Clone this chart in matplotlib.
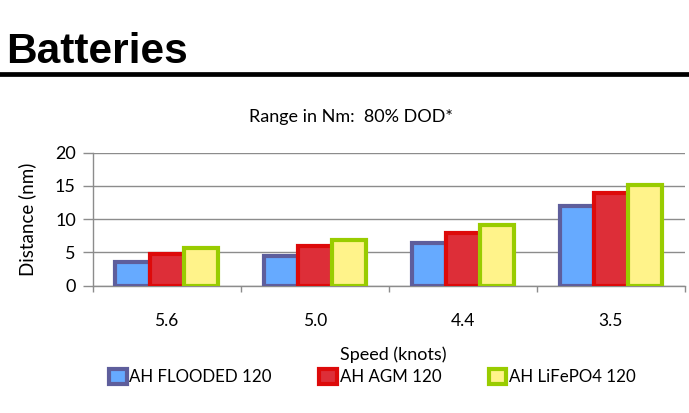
import matplotlib
matplotlib.use("Agg")
import matplotlib.pyplot as plt
import numpy as np

categories = ["5.6", "5.0", "4.4", "3.5"]
series_names = ["AH FLOODED 120", "AH AGM 120", "AH LiFePO4 120"]
flooded = [3.5, 4.5, 6.4, 12.0]
agm = [4.8, 5.9, 8.0, 13.9]
lifepo4 = [5.6, 6.9, 9.2, 15.1]
yticks = [0, 5, 10, 15, 20]

fills = ["#66AAFF", "#DD2E38", "#FFF38A"]
edges = ["#5E5E9C", "#DD0A0A", "#99CC00"]

body_font = ["Lato", "DejaVu Sans"]
H = 413.0
W = 689.0

fig = plt.figure(figsize=(6.89, 4.13), dpi=100)

# Slide title and rule
fig.text(6 / W, 1 - 62.7 / H, "Batteries", fontsize=30.5, fontweight="bold",
         family=["Liberation Sans", "DejaVu Sans"], ha="left", va="baseline")
fig.add_artist(plt.Line2D([0, 1], [1 - 74 / H, 1 - 74 / H], color="black", lw=3.4,
                          transform=fig.transFigure))

ax = fig.add_axes([92.5 / W, (H - 285.7) / H, (685 - 92.5) / W, (285.7 - 152.7) / H])

x = np.arange(len(categories))
w = 0.23
data = [flooded, agm, lifepo4]
handles = []
for i, vals in enumerate(data):
    b = ax.bar(x + (i - 1) * w, vals, width=w, color=fills[i], edgecolor=edges[i],
               linewidth=3.0, zorder=3, label=series_names[i])
    handles.append(b)

ax.set_xlim(-0.5, len(categories) - 0.5)
ax.set_ylim(0, 20)
ax.set_yticks(yticks)
ax.set_yticklabels([str(v) for v in yticks], fontsize=13, family=body_font)
ax.yaxis.grid(True, color="#8C8C8C", lw=1.0, zorder=0)
ax.tick_params(axis="y", length=7, color="#8C8C8C", width=1.0, pad=5)

ax.set_xticks(x)
ax.set_xticklabels(categories, fontsize=12.5, family=body_font)
ax.set_xticks(np.arange(-0.5, len(categories)), minor=True)
ax.tick_params(axis="x", which="major", length=0, pad=20)
ax.tick_params(axis="x", which="minor", length=4.5, color="#8C8C8C", width=1.0)

for s in ["top", "right"]:
    ax.spines[s].set_visible(False)
for s in ["left", "bottom"]:
    ax.spines[s].set_color("#8C8C8C")
    ax.spines[s].set_linewidth(1.0)

fig.text(27 / W, 1 - 219.5 / H, "Distance (nm)", fontsize=13.5, family=body_font,
         rotation=90, ha="center", va="center")
fig.text(351 / W, 1 - 121.7 / H, "Range in Nm:  80% DOD*", fontsize=13, family=body_font,
         ha="center", va="baseline")

fig.text(393 / W, 1 - 360 / H, "Speed (knots)", fontsize=13, family=body_font,
         ha="center", va="baseline")

leg = fig.legend(handles=handles, labels=series_names, loc="upper left",
                 bbox_to_anchor=(98 / W, 1 - 357.5 / H), ncol=3, frameon=True,
                 facecolor="white", edgecolor="none", framealpha=1.0,
                 prop={"family": body_font, "size": 12.2},
                 handlelength=1.05, handleheight=1.05, handletextpad=0.15,
                 columnspacing=2.8, borderpad=0.15, fancybox=False)

fig.savefig("out.png", dpi=100)
